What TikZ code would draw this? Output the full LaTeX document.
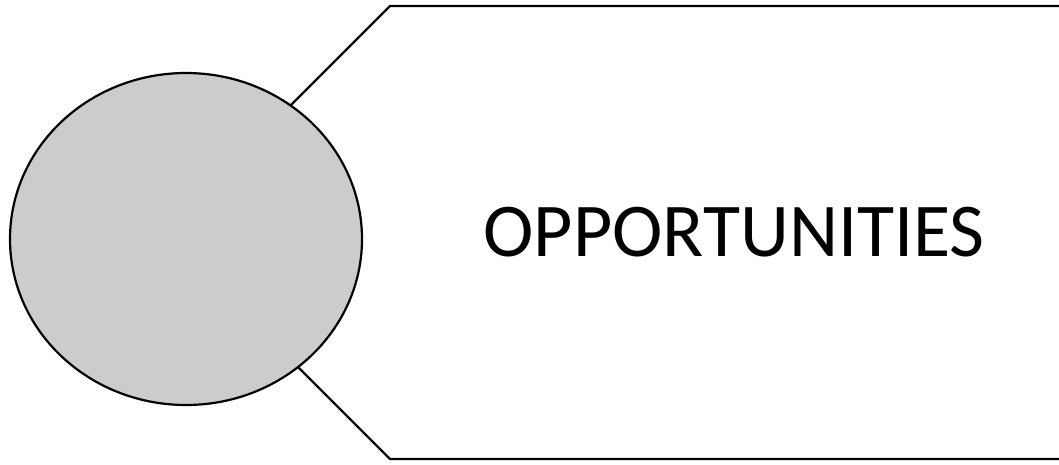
\documentclass[tikz,border=0pt]{standalone}
\usepackage{fontspec}
\setmainfont{Carlito}
\usetikzlibrary{shapes.geometric}
\definecolor{circfill}{HTML}{CCCCCC}
\tikzset{
  outline/.style={draw=black, line width=2.2pt, line join=miter},
  disc/.style={ellipse, draw=black, line width=2.2pt, fill=circfill, minimum width=352pt, minimum height=332pt, inner sep=0pt},
  label/.style={font=\fontsize{76}{90}\selectfont, anchor=base, inner sep=0pt}
}
\begin{document}
\begin{tikzpicture}[x=1pt,y=-1pt]
\useasboundingbox (0,0) rectangle (1059,464);
\clip (0,0) rectangle (1059,464);
\coordinate (tip) at (163.5,232.5);
\coordinate (tl) at (390,6);
\coordinate (bl) at (390,459);
\coordinate (tr) at (1075,6);
\coordinate (br) at (1075,459);
\draw[outline, fill=white] (tip) -- (tl) -- (tr) -- (br) -- (bl) -- cycle;
\node[disc] (circ) at (186,239) {};
\node[label] (opp) at (734,256) {OPPORTUNITIES};
\end{tikzpicture}
\end{document}
